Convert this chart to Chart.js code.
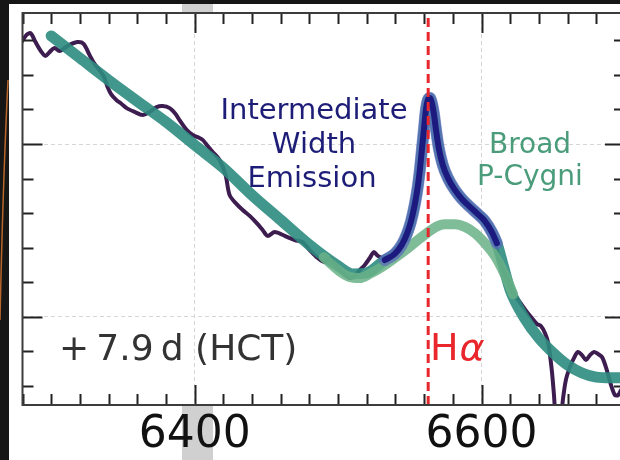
<!DOCTYPE html>
<html>
<head>
<meta charset="utf-8">
<script src="https://cdn.jsdelivr.net/npm/chart.js@4.4.1/dist/chart.umd.min.js"></script>
<style>
    html, body { margin: 0; padding: 0; overflow: hidden; background: #161616; }
    canvas { display: block; }
</style>
</head>
<body>
<canvas id="spectrumChart" width="630" height="460"></canvas>
<script>
// Observed spectrum (wavelength in Angstrom, normalised flux)
const obsWave = [6279.3, 6282.8, 6285.6, 6289.1, 6293.3, 6296.0, 6298.8, 6302.3, 6305.8, 6309.3,
    6312.8, 6318.4, 6322.6, 6326.7, 6330.2, 6333.7, 6337.2, 6339.3, 6342.1, 6345.6,
    6349.1, 6352.6, 6358.1, 6363.7, 6368.6, 6373.5, 6377.7, 6382.6, 6386.7, 6389.5,
    6394.4, 6398.6, 6402.1, 6405.6, 6409.1, 6412.6, 6417.4, 6421.6, 6424.4, 6429.3,
    6433.5, 6438.4, 6443.3, 6447.4, 6450.9, 6455.8, 6462.8, 6469.8, 6475.3, 6480.2,
    6485.8, 6490.7, 6494.2, 6497.7, 6501.2, 6504.7, 6508.1, 6511.6, 6515.1, 6518.6,
    6522.1, 6524.9, 6527.7, 6531.2, 6536.0, 6539.5, 6543.7, 6547.2, 6551.4, 6554.2,
    6556.3, 6558.4, 6560.5, 6561.9, 6563.3, 6564.7, 6566.0, 6568.1, 6570.9, 6575.1,
    6581.4, 6588.4, 6595.3, 6602.3, 6607.9, 6612.8, 6617.7, 6621.2, 6624.7, 6628.1,
    6631.6, 6635.1, 6638.6, 6641.4, 6644.2, 6646.3, 6647.7, 6649.1, 6650.5, 6651.9,
    6654.6, 6656.7, 6658.8, 6661.6, 6664.4, 6667.2, 6670.0, 6672.8, 6675.6, 6678.4,
    6681.2, 6684.0, 6686.7, 6688.8, 6690.9, 6693.0, 6695.2, 6697.3, 6700.0];
const obsFlux = [1.295, 1.316, 1.321, 1.295, 1.266, 1.255, 1.266, 1.278, 1.269, 1.278,
    1.287, 1.295, 1.290, 1.258, 1.232, 1.214, 1.191, 1.165, 1.142, 1.127,
    1.116, 1.104, 1.093, 1.084, 1.093, 1.107, 1.110, 1.104, 1.087, 1.069,
    1.041, 1.026, 1.020, 1.012, 0.994, 0.977, 0.954, 0.910, 0.852, 0.826,
    0.809, 0.792, 0.771, 0.751, 0.734, 0.745, 0.734, 0.722, 0.716, 0.693,
    0.670, 0.658, 0.670, 0.653, 0.635, 0.621, 0.612, 0.618, 0.635, 0.650,
    0.670, 0.687, 0.676, 0.670, 0.676, 0.687, 0.710, 0.734, 0.786, 0.838,
    0.896, 0.983, 1.069, 1.116, 1.133, 1.127, 1.104, 1.041, 0.968, 0.916,
    0.867, 0.835, 0.806, 0.774, 0.734, 0.658, 0.612, 0.577, 0.554, 0.534,
    0.514, 0.496, 0.479, 0.473, 0.453, 0.427, 0.389, 0.340, 0.273, 0.201,
    0.178, 0.259, 0.317, 0.354, 0.380, 0.398, 0.389, 0.375, 0.389, 0.398,
    0.392, 0.383, 0.354, 0.323, 0.294, 0.273, 0.273, 0.288, 0.299];

// Total model (broad P-Cygni + intermediate-width emission)
const fitWave = [6300, 6320, 6340, 6360, 6380, 6400, 6420, 6440, 6460, 6480,
    6500, 6510, 6520, 6532.6, 6539.5, 6544.4, 6547.9, 6550.7, 6553.5, 6555.6,
    6557.0, 6558.4, 6559.8, 6561.2, 6562.6, 6564.0, 6565.4, 6566.7, 6568.1, 6570.2,
    6573.0, 6576.5, 6581.4, 6586.3, 6591.9, 6597.4, 6602.3, 6607.2, 6610.7, 6615,
    6620, 6630, 6640, 6650, 6660, 6670, 6680, 6690, 6700];
const fitFlux = [1.313, 1.249, 1.185, 1.124, 1.064, 0.997, 0.931, 0.852, 0.780, 0.708,
    0.647, 0.624, 0.627, 0.664, 0.682, 0.708, 0.739, 0.774, 0.826, 0.878,
    0.925, 0.983, 1.041, 1.099, 1.128, 1.133, 1.118, 1.090, 1.046, 0.988,
    0.939, 0.902, 0.867, 0.841, 0.818, 0.797, 0.777, 0.745, 0.713, 0.650,
    0.577, 0.496, 0.438, 0.395, 0.360, 0.337, 0.325, 0.323, 0.323];

// Broad P-Cygni component around the line
const broadWave = [6490, 6500, 6508, 6515, 6522, 6530.5, 6539.5, 6547.9, 6555.6, 6561.9,
    6568.1, 6574.4, 6581.4, 6588.4, 6595.3, 6602.3, 6609.3, 6616.3, 6622];
const broadFlux = [0.672, 0.635, 0.615, 0.612, 0.624, 0.644, 0.670, 0.696, 0.722, 0.742,
    0.760, 0.768, 0.768, 0.760, 0.742, 0.713, 0.676, 0.621, 0.565];

// Intermediate-width emission on top of the broad component
const ivwWave = [6532.6, 6539.5, 6544.4, 6547.9, 6550.7, 6553.5, 6555.6, 6557.0, 6558.4, 6559.8,
    6561.2, 6562.6, 6564.0, 6565.4, 6566.7, 6568.1, 6570.2, 6573.0, 6576.5, 6581.4,
    6586.3, 6591.9, 6597.4, 6602.3, 6607.2, 6610.7];
const ivwFlux = [0.664, 0.682, 0.708, 0.739, 0.774, 0.826, 0.878, 0.925, 0.983, 1.041,
    1.099, 1.128, 1.133, 1.118, 1.090, 1.046, 0.988, 0.939, 0.902, 0.867,
    0.841, 0.818, 0.797, 0.777, 0.745, 0.713];

const halphaWave = 6562.8;
const xLabelTicks = [6400, 6600];
const yGridTicks = [0.5, 1.0];
const xRange = [6280, 6700];
const yRange = [0.2444, 1.3793];

const FONT = '"DejaVu Sans", "Liberation Sans", sans-serif';

function toPoints(xs, ys) {
    return xs.map((x, i) => ({ x: x, y: ys[i] }));
}

// Page background, outer frame and grey band
const backdropPlugin = {
    id: 'backdrop',
    beforeDraw(chart) {
        const ctx = chart.ctx;
        ctx.save();
        ctx.fillStyle = '#161616';
        ctx.fillRect(0, 0, chart.width, chart.height);
        ctx.fillStyle = '#ffffff';
        ctx.fillRect(9, 4, chart.width - 9, chart.height - 4);
        ctx.fillStyle = '#d0d0d0';
        ctx.fillRect(182, 4, 31, 9);
        ctx.fillRect(182, 406, 31, chart.height - 406);
        ctx.strokeStyle = '#b8662c';
        ctx.lineWidth = 1.5;
        ctx.beginPath();
        ctx.moveTo(0, 320);
        ctx.quadraticCurveTo(3, 180, 8, 80);
        ctx.stroke();
        ctx.restore();
    }
};

// Spines, inward minor/major ticks and annotations
const framePlugin = {
    id: 'frame',
    afterDraw(chart) {
        const ctx = chart.ctx;
        const area = chart.chartArea;
        const xs = chart.scales.x;
        const ys = chart.scales.y;
        ctx.save();

        ctx.strokeStyle = '#222';
        ctx.lineWidth = 2;
        ctx.beginPath();
        for (let w = xRange[0]; w <= xRange[1]; w += 20) {
            const px = Math.round(xs.getPixelForValue(w)) + 0.5;
            const len = (w % 200 === 0) ? 20 : 11;
            ctx.moveTo(px, area.bottom); ctx.lineTo(px, area.bottom - len);
            ctx.moveTo(px, area.top); ctx.lineTo(px, area.top + len);
        }
        for (let k = 3; k <= 13; k++) {
            const f = k / 10;
            const py = Math.round(ys.getPixelForValue(f)) + 0.5;
            const len = (k % 5 === 0) ? 20 : 11;
            ctx.moveTo(area.left, py); ctx.lineTo(area.left + len, py);
            ctx.moveTo(area.right, py); ctx.lineTo(area.right - len, py);
        }
        ctx.stroke();

        ctx.strokeStyle = '#3c3c3c';
        ctx.lineWidth = 2;
        ctx.strokeRect(area.left, area.top, area.right - area.left, area.bottom - area.top);

        // epoch label
        ctx.fillStyle = '#333333';
        ctx.font = '36px ' + FONT;
        ctx.textAlign = 'left';
        ctx.textBaseline = 'alphabetic';
        ctx.fillText('+\u20097.9\u2009d (HCT)', 59, 360);

        // H-alpha label
        ctx.font = '38px ' + FONT;
        ctx.fillStyle = '#e8262b';
        ctx.fillText('H', 430, 360);
        const hw = ctx.measureText('H').width;
        ctx.font = 'italic 38px ' + FONT;
        ctx.fillText('\u03b1', 430 + hw + 1, 360);

        // component labels
        ctx.textAlign = 'center';
        ctx.font = '29px ' + FONT;
        ctx.fillStyle = '#1d1d78';
        ctx.fillText('Intermediate', 314, 119);
        ctx.fillText('Width', 314, 153);
        ctx.fillText('Emission', 312, 187);

        ctx.font = '28px ' + FONT;
        ctx.fillStyle = '#4b9c7b';
        ctx.fillText('Broad', 530, 153);
        ctx.fillText('P-Cygni', 530, 185);
        ctx.restore();
    }
};

const ctx = document.getElementById('spectrumChart');
window.spectrumChart = new Chart(ctx, {
    type: 'scatter',
    data: {
        datasets: [
            {
                label: 'H-alpha',
                data: [{ x: halphaWave, y: yRange[0] }, { x: halphaWave, y: yRange[1] }],
                showLine: true,
                borderColor: '#e8262b',
                borderWidth: 3,
                borderDash: [9, 5],
                pointRadius: 0,
                order: 0
            },
            {
                label: 'Intermediate',
                data: toPoints(ivwWave, ivwFlux),
                showLine: true,
                borderColor: '#1c1a7e',
                borderWidth: 6,
                cubicInterpolationMode: 'monotone',
                borderCapStyle: 'round',
                pointRadius: 0,
                order: 1
            },
            {
                label: 'Intermediate band',
                data: toPoints(ivwWave, ivwFlux),
                showLine: true,
                borderColor: 'rgba(95, 95, 200, 0.6)',
                borderWidth: 12,
                cubicInterpolationMode: 'monotone',
                borderCapStyle: 'round',
                pointRadius: 0,
                order: 2
            },
            {
                label: 'Broad',
                data: toPoints(broadWave, broadFlux),
                showLine: true,
                borderColor: 'rgba(105, 178, 135, 0.85)',
                borderWidth: 10,
                cubicInterpolationMode: 'monotone',
                borderCapStyle: 'round',
                pointRadius: 0,
                order: 3
            },
            {
                label: 'Model',
                data: toPoints(fitWave, fitFlux),
                showLine: true,
                borderColor: 'rgba(46, 140, 128, 0.9)',
                borderWidth: 11,
                cubicInterpolationMode: 'monotone',
                borderCapStyle: 'round',
                borderJoinStyle: 'round',
                pointRadius: 0,
                order: 4
            },
            {
                label: 'Observed',
                data: toPoints(obsWave, obsFlux),
                showLine: true,
                borderColor: '#3d1d4f',
                borderWidth: 4,
                tension: 0.3,
                borderJoinStyle: 'round',
                pointRadius: 0,
                order: 5
            }
        ]
    },
    options: {
        responsive: false,
        animation: false,
        layout: { padding: { top: 13, right: 5, left: 0, bottom: 0 } },
        plugins: {
            legend: { display: false },
            tooltip: { enabled: false }
        },
        scales: {
            x: {
                type: 'linear',
                min: xRange[0],
                max: xRange[1],
                afterBuildTicks: (scale) => { scale.ticks = xLabelTicks.map(v => ({ value: v })); },
                afterFit: (scale) => { scale.height = 55; },
                grid: { color: '#d6d6d6', lineWidth: 1, drawTicks: false },
                border: { display: false, dash: [4, 3] },
                ticks: {
                    color: '#111',
                    font: { family: FONT, size: 44 },
                    padding: 4,
                    maxRotation: 0,
                    autoSkip: false,
                    callback: (v) => String(v)
                }
            },
            y: {
                type: 'linear',
                min: yRange[0],
                max: yRange[1],
                afterBuildTicks: (scale) => { scale.ticks = yGridTicks.map(v => ({ value: v })); },
                afterFit: (scale) => { scale.width = 22.5; },
                grid: { color: '#d6d6d6', lineWidth: 1, drawTicks: false },
                border: { display: false, dash: [4, 3] },
                ticks: { display: false }
            }
        }
    },
    plugins: [backdropPlugin, framePlugin]
});
</script>
</body>
</html>
